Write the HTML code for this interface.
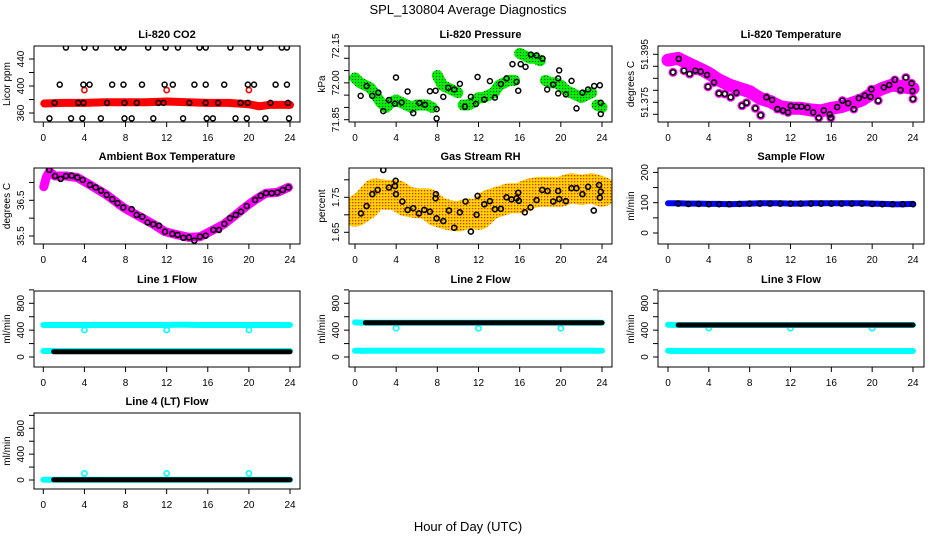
<!DOCTYPE html>
<html><head><meta charset="utf-8">
<style>
html,body{margin:0;padding:0;background:#fff;}
svg{display:block;font-family:"Liberation Sans",sans-serif;}
</style></head>
<body>
<svg id="chart" width="936" height="540" viewBox="0 0 936 540" xmlns="http://www.w3.org/2000/svg">
<defs>
<pattern id="greenDots" width="3" height="3" patternUnits="userSpaceOnUse"><rect width="3" height="3" fill="#00ee00"/><rect x="1" y="1" width="1" height="1" fill="#003300"/></pattern>
<pattern id="orangeDots" width="3" height="3" patternUnits="userSpaceOnUse"><rect width="3" height="3" fill="#ffd200"/><rect x="1" y="1" width="1.3" height="1.3" fill="#e03000"/></pattern>
</defs>
<text x="468" y="14" text-anchor="middle" font-size="13">SPL_130804  Average Diagnostics</text>
<text x="468" y="531" text-anchor="middle" font-size="13">Hour of Day (UTC)</text>
</svg>
<script>
// ---------- DATA ----------
const co2BlackHours = [2.2,4.0,5.1,7.2,7.8,10.2,11.9,13.1,15.2,15.8,18.2,19.9,21.1,23.2,23.7, 1.6,3.9,4.5,6.7,7.8,9.6,11.8,12.6,14.7,15.8,17.6,19.9,20.5,22.6,23.7, 1.1,3.4,3.9,6.2,7.9,9.1,11.2,11.7,14.2,15.8,17.0,19.2,19.9,22.1,23.8, 0.6,2.7,3.8,5.6,7.9,8.6,10.7,13.6,15.9,16.5,18.7,19.8,21.6,23.9];
const co2BlackVals = [457,457,457,457,457,457,457,457,457,457,457,457,457,457,457, 402,402,402,402,402,402,402,402,402,402,402,402,402,402,402, 375,375,375,375,375,375,375,375,375,375,375,375,375,375,375, 352,352,352,352,352,352,352,352,352,352,352,352,352,352];
const co2BandHours = [0.1,2,4,6,8,10,12,14,16,18,20,21,22,24];
const co2BandVals = [374,375,375,376,376,376,377,376,375,375,373,370,372,372];
const co2RedHours = [4,12,20];
const co2RedVals = [394,394,394];

const presBandVals = [72.02,72.0,71.99,71.98,71.95,71.92,71.9,71.92,71.93,71.92,71.91,71.90,71.91,71.91,71.91,71.90,72.03,71.99,71.98,71.97,71.96,71.91,71.91,71.92,71.94,71.94,71.95,71.96,71.99,72.0,72.01,72.01,72.12,72.11,72.1,72.1,72.09,72.01,72.0,72.0,71.99,71.97,71.96,71.95,71.94,71.95,71.96,71.91,71.90];
const presSegStarts = [0,16,21,32,37,47,49];
const presHours = [0.55,1.13,1.68,2.27,2.75,3.3,3.88,3.98,4.53,5.11,5.66,6.25,6.8,7.28,7.83,7.93,7.93,8.58,9.06,9.64,10.19,10.68,11.26,11.75,11.91,12.56,13.11,13.59,14.17,14.72,15.7,15.86,15.3,16.1,16.57,17.09,17.64,18.22,18.67,19.26,19.74,19.74,19.84,20.49,21.04,21.52,22.1,22.65,23.24,23.79,23.88,23.88];
const presVals = [71.947,71.987,71.947,71.96,71.885,71.93,71.915,72.022,71.92,71.965,71.877,71.918,71.911,71.966,71.968,71.855,71.893,71.943,71.98,71.973,71.996,71.903,71.943,71.914,72.024,71.932,72.007,71.94,71.995,72.018,72.004,71.968,72.076,72.076,72.065,72.115,72.112,72.099,71.973,71.993,72.018,71.957,72.051,71.953,72.008,71.896,71.96,71.973,71.987,71.99,71.919,71.873];

const tempBandVals = [51.3926,51.3933,51.3912,51.3892,51.3871,51.3843,51.3822,51.3808,51.3794,51.3767,51.3753,51.3732,51.3725,51.3725,51.3718,51.3714,51.3725,51.3732,51.3746,51.376,51.3787,51.3808,51.3822,51.3815,51.3808];
const tempHours = [0.49,1.05,1.57,2.12,2.68,3.2,3.82,3.92,4.51,5.0,5.56,6.14,6.7,7.25,7.68,8.56,9.08,9.64,10.2,10.72,11.27,11.76,12.03,12.58,13.07,13.66,14.22,14.77,15.26,15.85,15.95,16.57,17.09,17.65,18.2,18.69,19.28,19.84,19.93,20.59,21.14,21.67,22.22,22.78,23.3,23.86,23.95,24.0];
const tempVals = [51.3875,51.3931,51.3882,51.3868,51.3882,51.3878,51.3864,51.3815,51.3833,51.3787,51.3785,51.3771,51.379,51.3736,51.3748,51.3725,51.3696,51.3771,51.376,51.3722,51.3716,51.3708,51.3735,51.3732,51.3732,51.3728,51.3708,51.3686,51.3716,51.37,51.3686,51.373,51.3757,51.3746,51.3722,51.3767,51.3778,51.3773,51.3804,51.3757,51.3812,51.3822,51.3843,51.3801,51.3853,51.3829,51.3797,51.3764];

const ambHours = [0.58,1.14,1.69,2.21,2.76,3.31,3.83,4.54,5.09,5.61,6.16,6.71,7.23,7.78,8.6,9.08,9.63,10.15,10.7,11.26,11.84,12.55,13.07,13.62,14.17,14.69,15.24,15.8,16.54,17.09,17.61,18.16,18.72,19.23,19.79,20.6,21.15,21.67,22.22,22.77,23.29,23.84];
const ambVals = [37.35,37.18,37.10,37.18,37.19,37.14,37.07,36.93,36.86,36.77,36.65,36.53,36.42,36.30,36.25,36.09,36.04,35.88,35.83,35.79,35.62,35.56,35.53,35.45,35.46,35.37,35.48,35.51,35.67,35.67,35.84,36.0,36.09,36.18,36.34,36.51,36.63,36.70,36.70,36.72,36.79,36.86];
const ambBandHours = [0.05,0.3,0.58,1.14,2.21,3.31,4.54,6.16,7.78,9.08,10.7,11.84,13.07,14.17,15.24,16.54,17.61,18.72,19.79,20.6,21.67,22.77,23.84];
const ambBandVals = [36.88,37.15,37.3,37.18,37.18,37.14,36.93,36.65,36.30,36.09,35.83,35.62,35.53,35.46,35.48,35.67,35.84,36.09,36.34,36.51,36.70,36.72,36.86];

const rhBandVals = [1.709,1.728,1.761,1.757,1.757,1.738,1.733,1.733,1.709,1.700,1.695,1.704,1.700,1.728,1.738,1.747,1.747,1.761,1.766,1.766,1.766,1.776,1.771,1.776,1.766];
const rhHours = [0.58,1.13,1.68,2.2,2.75,3.3,3.88,3.95,3.98,4.6,5.11,5.66,6.21,6.73,7.28,7.83,7.86,7.93,8.58,9.13,9.64,10.19,10.74,11.26,11.81,11.91,12.56,13.11,13.59,14.17,14.72,15.21,15.7,15.86,15.92,16.5,17.06,17.64,18.19,18.71,19.26,19.74,19.84,20.49,21.04,21.52,22.1,22.65,23.2,23.72,23.79,23.88];
const rhVals = [1.704,1.725,1.759,1.771,1.828,1.778,1.782,1.797,1.759,1.738,1.714,1.719,1.704,1.714,1.709,1.747,1.759,1.69,1.682,1.712,1.663,1.707,1.738,1.652,1.7,1.754,1.73,1.739,1.716,1.717,1.75,1.744,1.747,1.763,1.74,1.707,1.721,1.742,1.771,1.768,1.738,1.768,1.745,1.739,1.776,1.776,1.759,1.78,1.712,1.785,1.749,1.766];

const sampleBlue = [98,98,97,97,96,96,95,96,97,98,98,98,97,97,98,98,98,98,98,98,97,96,95,95,96];
const sampleBlack = [97,97,96,96,95,95,95,96,97,97,97,97,97,97,97,97,97,97,97,97,96,95,95,95,95];

const line1CyanHigh = [477,477,477,477,477,477,477,477,477,477,477,477,477,480,480,477,477,477,477,477,477,477,477,477,477];
const line1CyanLow = [89,89,89,89,89,89,89,89,89,89,89,89,89,89,89,89,89,89,89,89,89,89,89,89,89];
const line1Black = [79,79,79,79,79,79,79,79,79,79,79,79,79,79,79,79,79,79,79,79,79,79,79,79,79];
const line1DipHours = [4,12,20];
const line1DipVals = [402,402,402];

const line2Black = [515,511,511,511,511,511,511,511,511,511,511,511,511,511,511,511,511,511,511,511,511,511,511,511,511];
const line2CyanLow = [94,94,94,94,94,94,94,94,94,94,94,94,94,94,94,94,94,94,94,94,94,94,94,94,94];
const line2DipHours = [4,12,20];
const line2DipVals = [428,428,428];

const line3Black = [480,477,477,477,477,477,477,477,477,477,477,477,477,477,477,477,477,477,477,477,477,477,477,477,477];
const line3CyanLow = [92,90,90,90,90,90,90,90,90,90,90,90,90,90,90,90,90,90,90,90,90,90,90,90,90];
const line3DipHours = [4,12,20];
const line3DipVals = [430,430,430];

const line4Black = [5,5,5,5,5,5,5,5,5,5,5,5,5,5,5,5,5,5,5,5,5,5,5,5,5];
const line4SpikeHours = [4,12,20];
const line4SpikeVals = [103,103,103];

const xTickLabels = ["0","4","8","12","16","20","24"];
const xTickHours = [0,4,8,12,16,20,24];

// ---------- LAYOUT ----------
const NS = "http://www.w3.org/2000/svg";
const svg = document.getElementById("chart");
const cols = [{bx0:34,bx1:300,h0:43.3,h24:290},{bx0:349,bx1:612,h0:355,h24:602},{bx0:658,bx1:924,h0:668,h24:913}];
const rowTop = [46,168,291,413], rowBot = [122,244,367,489];

function mk(tag, attrs, parent){
  const e = document.createElementNS(NS, tag);
  for (const k in attrs) e.setAttribute(k, attrs[k]);
  (parent||svg).appendChild(e);
  return e;
}

let clipId = 0;
function panel(cfg){
  const c = cols[cfg.col], top = rowTop[cfg.row], bot = rowBot[cfg.row];
  const g = mk("g", {});
  
  
  const [v1,p1,v2,p2] = cfg.cal;
  const X = h => c.h0 + h*(c.h24-c.h0)/24;
  const Y = v => p1 + (v-v1)*(p2-p1)/(v2-v1);
  const t = mk("text", {x:(c.bx0+c.bx1)/2, y:top-8, "text-anchor":"middle", "font-size":"11", "font-weight":"bold"}, g);
  t.textContent = cfg.title;
  
  
  const yt = mk("text", {x:0, y:0, "text-anchor":"middle", "font-size":"10", transform:`translate(${c.bx0-24},${(top+bot)/2}) rotate(-90)`}, g);
  yt.textContent = cfg.ylab;
  
  
  cfg.yticks.forEach(v=>{
    const tk = mk("line", {x1:c.bx0-5, x2:c.bx0, y1:Y(v), y2:Y(v), stroke:"#000"}, g);
    
    
  });
  cfg.ylabels.forEach((lb,i)=>{
    const yy = Y(cfg.ylabelVals[i]);
    const tl = mk("text", {x:0, y:0, "text-anchor":"middle", "font-size":"10", transform:`translate(${c.bx0-10},${yy}) rotate(-90)`}, g);
    tl.textContent = lb;
    
    
  });
  xTickHours.forEach((h,i)=>{
    const tk = mk("line", {x1:X(h), x2:X(h), y1:bot, y2:bot+5, stroke:"#000"}, g);
    
    
    const tl = mk("text", {x:X(h), y:bot+19, "text-anchor":"middle", "font-size":"10"}, g);
    tl.textContent = xTickLabels[i];
    
    
  });
  clipId++;
  const cp = mk("clipPath", {id:"cp"+clipId}, g);
  mk("rect", {x:c.bx0, y:top, width:c.bx1-c.bx0, height:bot-top}, cp);
  const plot = mk("g", {"clip-path":`url(#cp${clipId})`}, g);
  
  
  cfg.draw(plot, X, Y);
  const box = mk("rect", {x:c.bx0, y:top, width:c.bx1-c.bx0, height:bot-top, fill:"none", stroke:"#000", "stroke-width":"1"}, g);
  
  
}

function band(parent, X, Y, hours, vals, color, width, name){
  const d = hours.map((h,i)=>(i?"L":"M")+X(h).toFixed(1)+","+Y(vals[i]).toFixed(1)).join(" ");
  const p = mk("path", {d, fill:"none", stroke:color, "stroke-width":width, "stroke-linejoin":"round", "stroke-linecap":"round"}, parent);
  
  
}
function pts(parent, X, Y, hours, vals, color, r, sw, name){
  hours.forEach((h,i)=>{
    const ci = mk("circle", {cx:X(h), cy:Y(vals[i]), r:r, fill:"none", stroke:color, "stroke-width":sw}, parent);
    
    
  });
}
const halfHours = presBandVals.map((v,i)=>i*0.5);
const fullHours = tempBandVals.map((v,i)=>i);

panel({name:"panel-co2", col:0,row:0,title:"Li-820 CO2",ylab:"Licor ppm",cal:[360,113,440,59],
  yticks:[360,380,400,420,440], ylabels:["360","400","440"], ylabelVals:[360,400,440],
  draw:(g,X,Y)=>{
    band(g,X,Y,co2BandHours,co2BandVals,"#ff0000",8,"co2-band");
    pts(g,X,Y,co2RedHours,co2RedVals,"#ff0000",2.6,1.6,"co2-red-point");
    pts(g,X,Y,co2BlackHours,co2BlackVals,"#000",2.5,1.5,"co2-point");
  }});
panel({name:"panel-pressure", col:1,row:0,title:"Li-820 Pressure",ylab:"kPa",cal:[72.15,46,71.85,119.7],
  yticks:[71.85,71.9,71.95,72.0,72.05,72.1,72.15], ylabels:["72.15","72.00","71.85"], ylabelVals:[72.15,72.0,71.85],
  draw:(g,X,Y)=>{
    for (let s=0;s<presSegStarts.length-1;s++){
      const a=presSegStarts[s], b=presSegStarts[s+1];
      band(g,X,Y,halfHours.slice(a,b),presBandVals.slice(a,b),"url(#greenDots)",11,"pressure-band");
    }
    pts(g,X,Y,presHours,presVals,"#000",2.5,1.5,"pressure-point");
  }});
panel({name:"panel-li820-temp", col:2,row:0,title:"Li-820 Temperature",ylab:"degrees C",cal:[51.395,54.3,51.370,114.3],
  yticks:[51.37,51.375,51.38,51.385,51.39,51.395], ylabels:["51.395","51.375"], ylabelVals:[51.395,51.375],
  draw:(g,X,Y)=>{
    band(g,X,Y,fullHours,tempBandVals,"#ff00ff",13,"temperature-band");
    pts(g,X,Y,tempHours,tempVals,"#ff00ff",3.5,2,"temperature-magenta-point");
    pts(g,X,Y,tempHours,tempVals,"#000",2.5,1.6,"temperature-point");
  }});
panel({name:"panel-ambient", col:0,row:1,title:"Ambient Box Temperature",ylab:"degrees C",cal:[35.5,236,36.5,200.3],
  yticks:[35.5,36,36.5,37], ylabels:["35.5","36.5"], ylabelVals:[35.5,36.5],
  draw:(g,X,Y)=>{
    band(g,X,Y,ambBandHours,ambBandVals,"#ff00ff",9,"ambient-band");
    pts(g,X,Y,ambHours,ambVals,"#000",2.5,1.6,"ambient-point");
  }});
panel({name:"panel-rh", col:1,row:1,title:"Gas Stream RH",ylab:"percent",cal:[1.65,232.3,1.75,197.3],
  yticks:[1.65,1.7,1.75,1.8], ylabels:["1.65","1.75"], ylabelVals:[1.65,1.75],
  draw:(g,X,Y)=>{
    band(g,X,Y,fullHours,rhBandVals,"url(#orangeDots)",30,"rh-band");
    pts(g,X,Y,rhHours,rhVals,"#000",2.5,1.6,"rh-point");
  }});
panel({name:"panel-sample-flow", col:2,row:1,title:"Sample Flow",ylab:"ml/min",cal:[0,233,100,202.7],
  yticks:[0,50,100,150,200], ylabels:["0","100","200"], ylabelVals:[0,100,200],
  draw:(g,X,Y)=>{
    band(g,X,Y,fullHours,sampleBlue,"#0000ff",6,"sample-flow-blue-band");
    pts(g,X,Y,fullHours.slice(1),sampleBlack.slice(1),"#000",2.5,1.6,"sample-flow-point");
  }});
const flowTicks=[0,200,400,600,800,1000];
panel({name:"panel-line1", col:0,row:2,title:"Line 1 Flow",ylab:"ml/min",cal:[0,357,800,303.3],
  yticks:flowTicks, ylabels:["0","400","800"], ylabelVals:[0,400,800],
  draw:(g,X,Y)=>{
    band(g,X,Y,fullHours,line1CyanHigh,"#00ffff",6,"line1-cyan-high");
    band(g,X,Y,fullHours,line1CyanLow,"#00ffff",6,"line1-cyan-low");
    pts(g,X,Y,line1DipHours,line1DipVals,"#00ffff",2.6,1.6,"line1-dip-point");
    band(g,X,Y,fullHours.slice(1),line1Black.slice(1),"#000",5,"line1-black-band");
  }});
panel({name:"panel-line2", col:1,row:2,title:"Line 2 Flow",ylab:"ml/min",cal:[0,357,800,303.3],
  yticks:flowTicks, ylabels:["0","400","800"], ylabelVals:[0,400,800],
  draw:(g,X,Y)=>{
    band(g,X,Y,fullHours,line2CyanLow,"#00ffff",6,"line2-cyan-low");
    band(g,X,Y,fullHours,line2Black,"#00ffff",6,"line2-cyan-high");
    pts(g,X,Y,line2DipHours,line2DipVals,"#00ffff",2.6,1.6,"line2-dip-point");
    band(g,X,Y,fullHours.slice(1),line2Black.slice(1),"#000",5,"line2-black-band");
  }});
panel({name:"panel-line3", col:2,row:2,title:"Line 3 Flow",ylab:"ml/min",cal:[0,357,800,303.3],
  yticks:flowTicks, ylabels:["0","400","800"], ylabelVals:[0,400,800],
  draw:(g,X,Y)=>{
    band(g,X,Y,fullHours,line3CyanLow,"#00ffff",6,"line3-cyan-low");
    band(g,X,Y,fullHours,line3Black,"#00ffff",6,"line3-cyan-high");
    pts(g,X,Y,line3DipHours,line3DipVals,"#00ffff",2.6,1.6,"line3-dip-point");
    band(g,X,Y,fullHours.slice(1),line3Black.slice(1),"#000",5,"line3-black-band");
  }});
panel({name:"panel-line4", col:0,row:3,title:"Line 4 (LT) Flow",ylab:"ml/min",cal:[0,480,800,428.3],
  yticks:flowTicks, ylabels:["0","400","800"], ylabelVals:[0,400,800],
  draw:(g,X,Y)=>{
    band(g,X,Y,fullHours,line4Black,"#00ffff",6,"line4-cyan-band");
    pts(g,X,Y,line4SpikeHours,line4SpikeVals,"#00ffff",2.6,1.6,"line4-spike-point");
    band(g,X,Y,fullHours.slice(1),line4Black.slice(1),"#000",5,"line4-black-band");
  }});
</script>
</body></html>
